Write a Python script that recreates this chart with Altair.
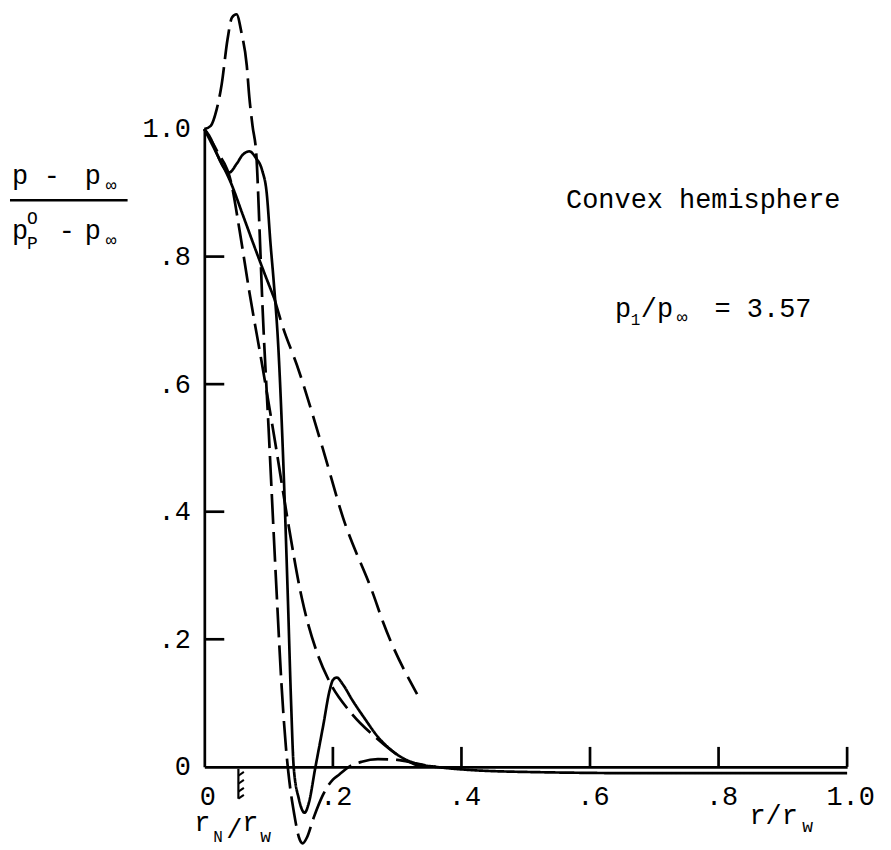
import altair as alt
import pandas as pd

# ---------------- data ----------------
X_TICKS = [0, 0.2, 0.4, 0.6, 0.8, 1.0]
X_LABELS = ["0", ".2", ".4", ".6", ".8", "1.0"]
Y_TICKS = [0, 0.2, 0.4, 0.6, 0.8, 1.0]
Y_LABELS = ["0", ".2", ".4", ".6", ".8", "1.0"]
X_INNER_TICKS = [0.2, 0.4, 0.6, 0.8, 1.0]
Y_INNER_TICKS = [0.2, 0.4, 0.6, 0.8]
RN = 0.053  # nose radius ratio r_N / r_w

# long-dashed curve with the overshoot peak
A_X = [0, 0.01, 0.019, 0.027, 0.036, 0.043, 0.05, 0.058, 0.066, 0.07, 0.075, 0.081,
       0.086, 0.09, 0.10, 0.113, 0.12, 0.127, 0.132, 0.14, 0.147, 0.153, 0.16, 0.17,
       0.184, 0.2, 0.21, 0.225, 0.245, 0.27, 0.30, 0.33, 0.36]
A_Y = [1.0, 1.005, 1.03, 1.07, 1.14, 1.175, 1.18, 1.15, 1.10, 1.05, 1.005, 0.958,
       0.84, 0.734, 0.53, 0.263, 0.13, 0.03, -0.02, -0.075, -0.11, -0.12, -0.11, -0.08,
       -0.045, -0.02, -0.012, 0.0, 0.008, 0.012, 0.011, 0.005, 0.0]

# smooth curve, solid part then dashed part
B1_X = [0, 0.02, 0.042, 0.06, 0.08, 0.095, 0.109]
B1_Y = [1.0, 0.96, 0.914, 0.865, 0.81, 0.77, 0.734]
B2_X = [0.109, 0.122, 0.144, 0.184, 0.216, 0.263, 0.278, 0.331]
B2_Y = [0.734, 0.69, 0.63, 0.50, 0.39, 0.27, 0.227, 0.114]

# solid curve with dip, bump, undershoot and secondary peak
C_X = [0, 0.01, 0.02, 0.03, 0.039, 0.05, 0.06, 0.07, 0.08, 0.09, 0.097, 0.103, 0.108,
       0.115, 0.122, 0.13, 0.135, 0.139, 0.147, 0.156, 0.163, 0.172, 0.185, 0.195,
       0.2, 0.206, 0.215, 0.23, 0.25, 0.27, 0.29, 0.31, 0.33, 0.36, 0.4, 0.5, 0.7, 1.0]
C_Y = [1.0, 0.985, 0.96, 0.94, 0.932, 0.945, 0.96, 0.965, 0.955, 0.935, 0.90, 0.82, 0.76,
       0.66, 0.50, 0.263, 0.10, 0.0, -0.05, -0.072, -0.055, -0.005, 0.065, 0.12,
       0.136, 0.14, 0.13, 0.105, 0.075, 0.047, 0.027, 0.013, 0.005, 0.0, -0.004, -0.008, -0.01, -0.01]

# dashed smooth curve falling to zero near 0.34
E_X = [0, 0.02, 0.042, 0.055, 0.07, 0.09, 0.11, 0.13, 0.152, 0.175, 0.195, 0.227, 0.269, 0.31, 0.336]
E_Y = [1.0, 0.965, 0.915, 0.84, 0.745, 0.63, 0.51, 0.385, 0.263, 0.18, 0.133, 0.086, 0.044, 0.0125, 0.0]

SERIES = [("A", A_X, A_Y), ("B1", B1_X, B1_Y), ("B2", B2_X, B2_Y), ("C", C_X, C_Y), ("E", E_X, E_Y)]
DASHES = [[30, 8], [1, 0], [22, 9], [1, 0], [26, 8]]

rows = []
for name, xs, ys in SERIES:
    for i, (xv, yv) in enumerate(zip(xs, ys)):
        rows.append({"series": name, "i": i, "x": xv, "y": yv})
df = pd.DataFrame(rows)

# ---------------- layout ----------------
W, H = 645, 640
FONT = "Liberation Mono"
FS = 27
SUB = 18
LW = 2.7

xscale = alt.Scale(domain=[0, 1], nice=False, zero=False)
yscale = alt.Scale(domain=[0, 1], nice=False, zero=False)


def lab_expr(labels):
    arr = "[" + ",".join("'" + s + "'" for s in labels) + "]"
    return arr + "[round(datum.value*5)]"


xaxis = alt.Axis(values=X_TICKS, labelExpr=lab_expr(X_LABELS), grid=False, ticks=False,
                 title=None, labelFont=FONT, labelFontSize=FS, labelColor="black",
                 domainColor="black", domainWidth=LW, labelPadding=17,
                 labelAlign="center", labelBaseline="top", labelFlush=False, labelOffset=3)
yaxis = alt.Axis(values=Y_TICKS, labelExpr=lab_expr(Y_LABELS), grid=False, ticks=False,
                 title=None, labelFont=FONT, labelFontSize=FS, labelColor="black",
                 domainColor="black", domainWidth=LW, labelPadding=14,
                 labelAlign="right", labelBaseline="middle", labelFlush=False)


def X(f):
    return alt.X(f, type="quantitative", scale=xscale, axis=xaxis)


def Y(f):
    return alt.Y(f, type="quantitative", scale=yscale, axis=yaxis)


lines = alt.Chart(df).mark_line(color="black", strokeWidth=LW, interpolate="monotone",
                                strokeCap="butt", clip=False).encode(
    x=X("x"), y=Y("y"),
    strokeDash=alt.StrokeDash("series:N", scale=alt.Scale(domain=[s[0] for s in SERIES], range=DASHES),
                              legend=None),
    order="i:Q",
)

ytick_df = pd.DataFrame({"v": Y_INNER_TICKS})
xtick_df = pd.DataFrame({"v": X_INNER_TICKS})
yticks = alt.Chart(ytick_df).mark_rule(color="black", strokeWidth=LW).encode(
    y=Y("v"), x=alt.value(0), x2=alt.value(20))
xticks = alt.Chart(xtick_df).mark_rule(color="black", strokeWidth=LW).encode(
    x=X("v"), y=alt.value(H), y2=alt.value(H - 20))

rn_df = pd.DataFrame({"v": [RN]})
hatch_line = alt.Chart(rn_df).mark_rule(color="black", strokeWidth=2.2).encode(
    x=X("v"), y=alt.value(H + 2), y2=alt.value(H + 32))
hatches = []
for off in [7, 15, 23, 30]:
    hatches.append(alt.Chart(rn_df).mark_point(shape="M0,0.35L1,-0.35", size=120, color="black",
                                               strokeWidth=2, filled=False, opacity=1).encode(
        x=X("v"), y=alt.value(H + off)))


def txt(s, x, y, size=FS, align="left", baseline="alphabetic"):
    return alt.Chart(rn_df).mark_text(text=s, font=FONT, fontSize=size, color="black",
                                      align=align, baseline=baseline).encode(
        x=alt.value(x), y=alt.value(y))


texts = [
    # y-axis title fraction
    txt("p", -193, 55), txt("-", -153, 55, align="center"), txt("p", -120, 55),
    txt("\u221e", -99, 62, size=SUB),
    txt("p", -193, 110), txt("O", -178, 95, size=SUB), txt("P", -178, 120, size=SUB),
    txt("-", -138, 110, align="center"), txt("p", -120, 110), txt("\u221e", -99, 117, size=SUB),
    # annotations
    txt("Convex hemisphere", 363, 79),
    txt("p", 412, 189), txt("1", 428, 197, size=16), txt("/p", 438, 189),
    txt("\u221e", 474, 195, size=SUB), txt("= 3.57", 512, 189),
    # x-axis title
    txt("r/r", 547, 697), txt("w", 600, 705, size=SUB),
    # r_N / r_w label
    txt("r", -10, 704), txt("N", 9, 715, size=16), txt("/", 22, 711),
    txt("r", 38, 704), txt("w", 56, 715, size=SUB),
]

frac_line = alt.Chart(rn_df).mark_rule(color="black", strokeWidth=2.4).encode(
    x=alt.value(-195), x2=alt.value(-77), y=alt.value(71.5))

chart = alt.layer(lines, yticks, xticks, hatch_line, *hatches, frac_line, *texts).properties(
    width=W, height=H,
    autosize=alt.AutoSizeParams(type="none"),
    padding={"left": 197, "top": 120, "right": 36, "bottom": 82},
).configure(background="white").configure_view(stroke=None)

chart.save("out.html", embed_options={"renderer": "svg", "actions": False})
